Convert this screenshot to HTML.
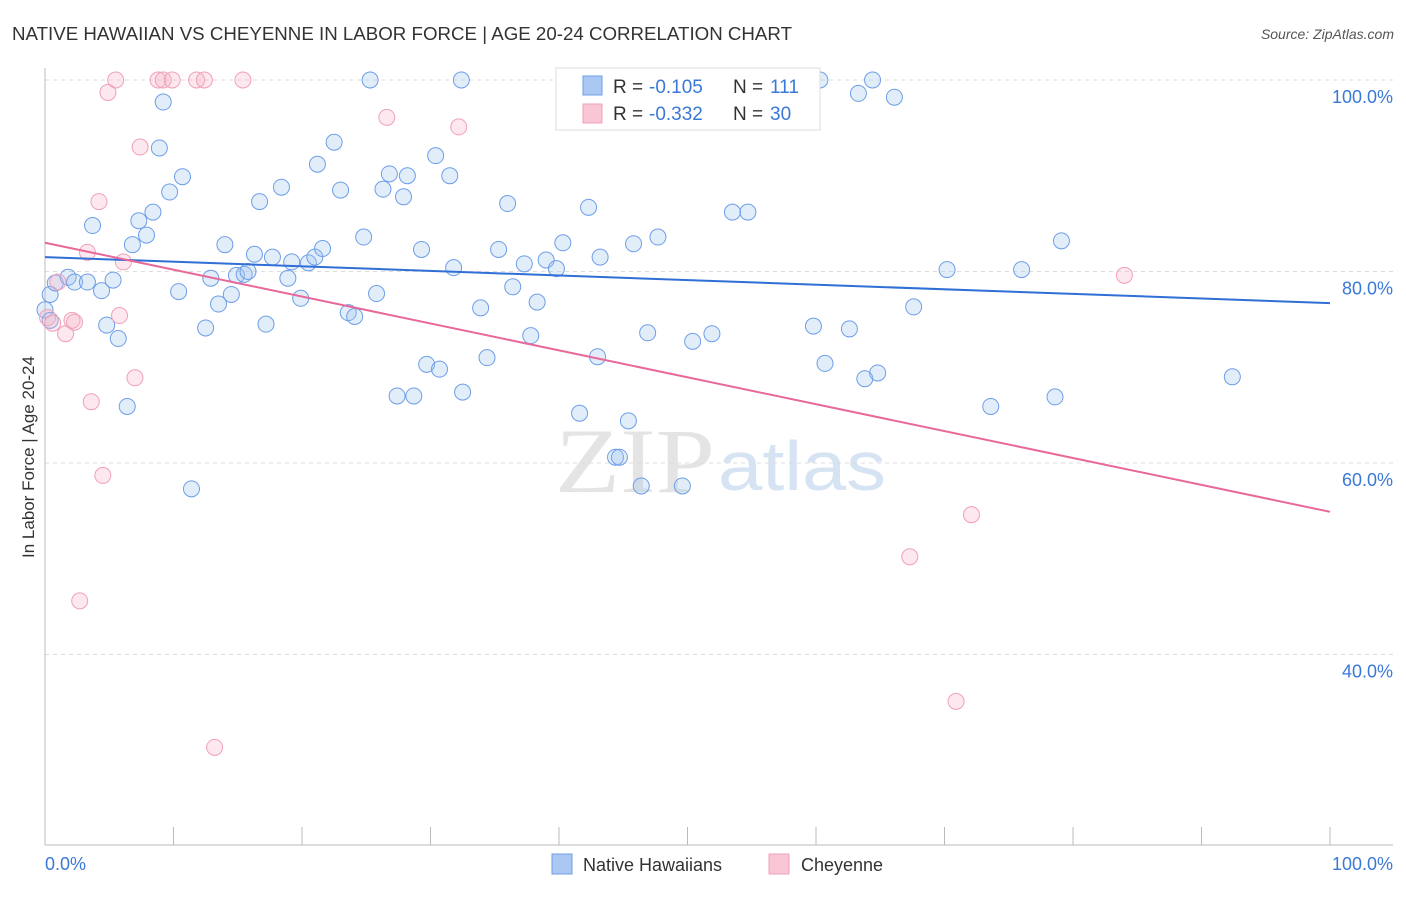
<!DOCTYPE html>
<html><head><meta charset="utf-8"><style>
body{margin:0;background:#fff;font-family:"Liberation Sans",sans-serif}
</style></head><body>
<svg id="chart" width="1406" height="892" xmlns="http://www.w3.org/2000/svg" font-family="Liberation Sans, sans-serif">
<text x="12" y="40" font-size="18" fill="#333" textLength="780" lengthAdjust="spacingAndGlyphs">NATIVE HAWAIIAN VS CHEYENNE IN LABOR FORCE | AGE 20-24 CORRELATION CHART</text>
<text x="1394" y="39" font-size="14" fill="#555" text-anchor="end" font-style="italic">Source: ZipAtlas.com</text>
<g>
<text x="555" y="492" font-size="92" fill="#e4e4e4" font-family="Liberation Serif, serif" textLength="160" lengthAdjust="spacingAndGlyphs">ZIP</text>
<text x="718" y="490" font-size="70" fill="#d6e3f3" textLength="168" lengthAdjust="spacingAndGlyphs">atlas</text>
</g>
<g id="grid"></g>
<g id="axes"></g>
<g id="pts"></g>
<g id="trends"></g>
<text transform="translate(34,457) rotate(-90)" font-size="17" fill="#333" text-anchor="middle">In Labor Force | Age 20-24</text>
<g>
<rect x="556" y="68" width="264" height="62" fill="#fff" stroke="#ddd"/>
<rect x="583" y="76" width="19" height="19" fill="#aac8f2" stroke="#6d9ee8"/>
<rect x="583" y="104" width="19" height="19" fill="#f8c6d5" stroke="#f0a0b8"/>
<text x="613" y="93" font-size="19" fill="#333">R =</text>
<text x="649" y="93" font-size="19" fill="#3a78d8">-0.105</text>
<text x="733" y="93" font-size="19" fill="#333">N =</text>
<text x="770" y="93" font-size="19" fill="#3a78d8">111</text>
<text x="613" y="120" font-size="19" fill="#333">R =</text>
<text x="649" y="120" font-size="19" fill="#3a78d8">-0.332</text>
<text x="733" y="120" font-size="19" fill="#333">N =</text>
<text x="770" y="120" font-size="19" fill="#3a78d8">30</text>
</g>
<g>
<rect x="552" y="854" width="20" height="20" fill="#aac8f2" stroke="#6d9ee8"/>
<text x="583" y="871" font-size="18" fill="#333">Native Hawaiians</text>
<rect x="769" y="854" width="20" height="20" fill="#f8c6d5" stroke="#f0a0b8"/>
<text x="801" y="871" font-size="18" fill="#333">Cheyenne</text>
</g>
</svg>
<script>
const yTicks=[100,80,60,40];
const yTickLabels=["100.0%","80.0%","60.0%","40.0%"];
const xTickLabels=["0.0%","100.0%"];
const blueX=[0.4,0.8,1.8,2.3,3.3,4.4,4.8,5.7,5.3,6.4,3.7,6.8,7.3,7.9,8.4,8.9,9.2,9.7,10.7,10.4,11.4,12.5,12.9,13.5,14.0,14.5,14.9,15.5,15.8,16.7,16.3,17.2,17.7,18.4,18.9,19.2,19.9,20.5,21.0,21.6,21.2,22.5,23.0,23.6,24.1,24.8,25.8,25.3,26.3,26.8,27.4,27.9,28.2,28.7,29.3,29.7,30.4,30.7,31.5,31.8,32.4,32.5,33.9,34.4,35.3,36.0,36.4,37.3,37.8,38.3,39.0,39.8,40.3,41.6,42.3,43.0,43.2,43.7,44.4,44.7,45.4,45.8,46.4,46.9,47.7,49.6,50.4,51.9,53.5,54.7,59.8,60.3,60.7,62.6,63.3,63.8,64.4,64.8,66.1,67.6,70.2,73.6,76.0,78.6,79.1,92.4,0,0.4];
const blueY=[77.6,78.8,79.4,78.9,78.9,78.0,74.4,73.0,79.1,65.9,84.8,82.8,85.3,83.8,86.2,92.9,97.7,88.3,89.9,77.9,57.3,74.1,79.3,76.6,82.8,77.6,79.6,79.7,80.0,87.3,81.8,74.5,81.5,88.8,79.3,81.0,77.2,80.9,81.5,82.4,91.2,93.5,88.5,75.7,75.3,83.6,77.7,100,88.6,90.2,67.0,87.8,90.0,67.0,82.3,70.3,92.1,69.8,90.0,80.4,100,67.4,76.2,71.0,82.3,87.1,78.4,80.8,73.3,76.8,81.2,80.3,83.0,65.2,86.7,71.1,81.5,100,60.6,60.6,64.4,82.9,57.6,73.6,83.6,57.6,72.7,73.5,86.2,86.2,74.3,100,70.4,74.0,98.6,68.8,100,69.4,98.2,76.3,80.2,65.9,80.2,66.9,83.2,69.0,76.0,74.9];
const pinkX=[0.2,0.6,1.0,1.6,2.1,2.3,2.7,3.3,3.6,4.2,4.5,4.9,5.5,5.8,6.1,7.0,7.4,8.8,9.2,9.9,11.8,12.4,13.2,15.4,26.6,32.2,67.3,70.9,72.1,84.0];
const pinkY=[75.2,74.6,78.9,73.5,74.9,74.7,45.6,82.0,66.4,87.3,58.7,98.7,100,75.4,81.0,68.9,93.0,100,100,100,100,100,30.3,100,96.1,95.1,50.2,35.1,54.6,79.6];
const blueTrend=[81.5,76.7];
const pinkTrend=[83.0,54.9];
const NS="http://www.w3.org/2000/svg";
const X0=45,X1=1330,YT=80,YB=845,YMIN=20.1,YMAX=100;
const sx=v=>X0+(X1-X0)*v/100;
const sy=v=>YB-(YB-YT)*(v-YMIN)/(YMAX-YMIN);
function mk(tag,attrs,parent){const e=document.createElementNS(NS,tag);for(const k in attrs)e.setAttribute(k,attrs[k]);document.getElementById(parent).appendChild(e);return e;}
yTicks.forEach((t,i)=>{
 const l=mk('line',{x1:X0,x2:1393,y1:sy(t),y2:sy(t),stroke:'#ddd','stroke-dasharray':'4,4'},'grid');
 
 
 const tx=mk('text',{x:1393,y:sy(t)+23,'font-size':18,fill:'#3a78d8','text-anchor':'end'},'grid');
 tx.textContent=yTickLabels[i];
 
 
});
let a=mk('line',{x1:X0,x2:X0,y1:68,y2:YB,stroke:'#bbb'},'axes');


a=mk('line',{x1:X0,x2:1393,y1:YB,y2:YB,stroke:'#bbb'},'axes');


for(let i=0;i<=10;i++){const t=mk('line',{x1:sx(i*10),x2:sx(i*10),y1:YB,y2:827,stroke:'#bbb'},'axes');
 
 }
[[0,'start',X0],[1,'end',1393]].forEach(([i,anc,x])=>{const t=mk('text',{x:x,y:870,'font-size':18,fill:'#3a78d8','text-anchor':anc},'axes');t.textContent=xTickLabels[i];
 
 });
blueX.forEach((v,i)=>{const c=mk('circle',{cx:sx(v),cy:sy(blueY[i]),r:8,fill:'rgba(160,196,240,0.3)',stroke:'#6d9ee8','stroke-width':1},'pts');
 
 });
pinkX.forEach((v,i)=>{const c=mk('circle',{cx:sx(v),cy:sy(pinkY[i]),r:8,fill:'rgba(246,180,200,0.3)',stroke:'#f0a0b8','stroke-width':1},'pts');
 
 });
let t=mk('line',{x1:sx(0),x2:sx(100),y1:sy(blueTrend[0]),y2:sy(blueTrend[1]),stroke:'#2f6fd6','stroke-width':2},'trends');


t=mk('line',{x1:sx(0),x2:sx(100),y1:sy(pinkTrend[0]),y2:sy(pinkTrend[1]),stroke:'#e8689a','stroke-width':2},'trends');


</script>
</body></html>
